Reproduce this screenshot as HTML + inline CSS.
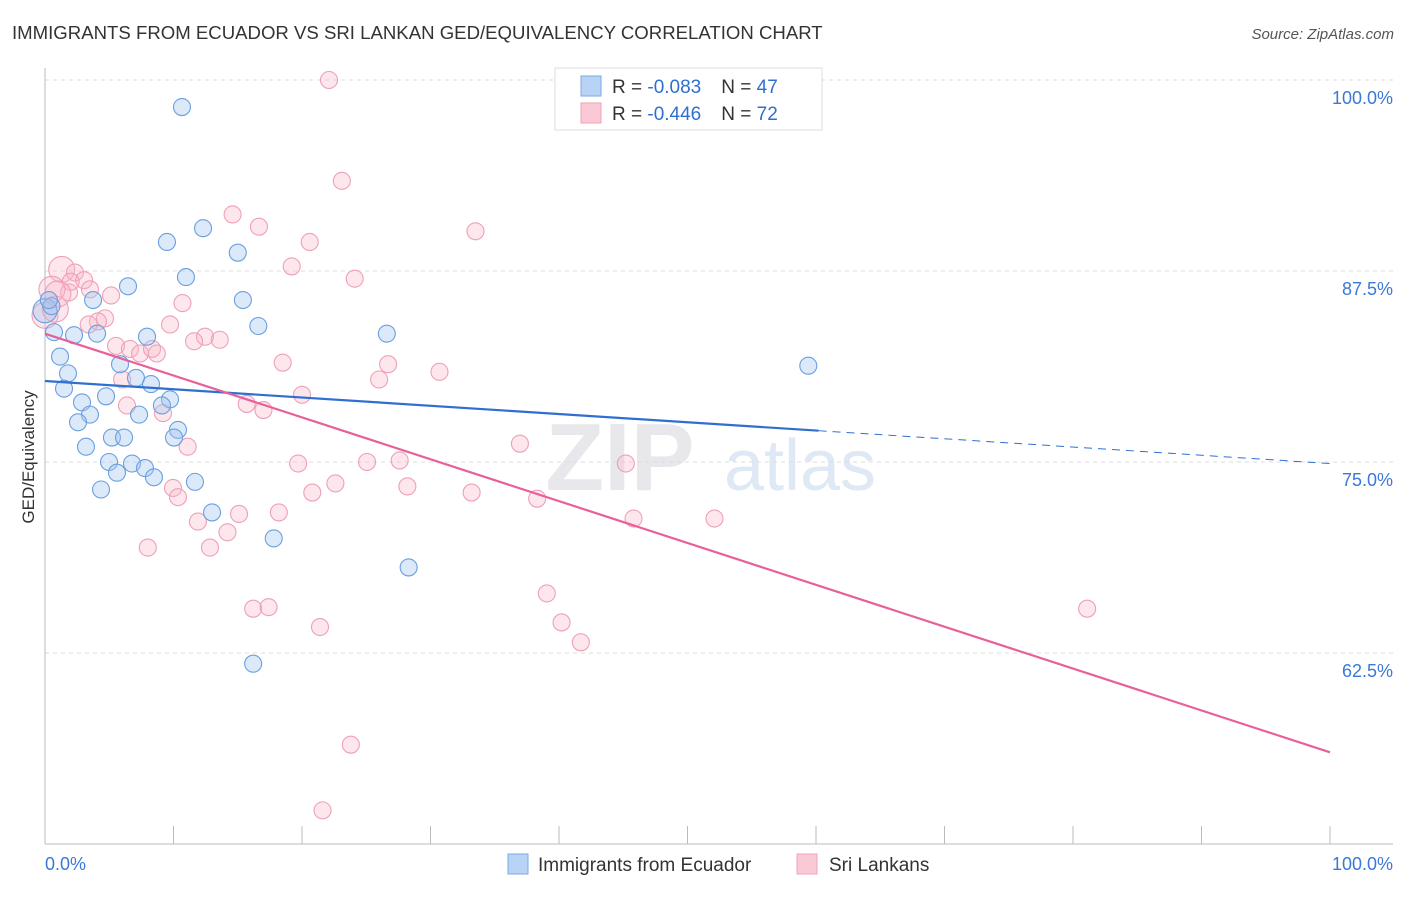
<!DOCTYPE html>
<html><head><meta charset="utf-8"><style>
body{margin:0;background:#fff;font-family:"Liberation Sans",sans-serif;}
svg text{font-family:"Liberation Sans",sans-serif;}
</style></head><body>
<svg id="chart" width="1406" height="892">
<text x="12" y="39" font-size="18.6" fill="#333">IMMIGRANTS FROM ECUADOR VS SRI LANKAN GED/EQUIVALENCY CORRELATION CHART</text>
<text x="1394" y="39" font-size="15" fill="#555" font-style="italic" text-anchor="end">Source: ZipAtlas.com</text>
<text x="620" y="490" font-size="96" fill="#e8e8ec" font-family="Liberation Serif" font-weight="bold" text-anchor="middle">ZIP</text>
<text x="800" y="490" font-size="72" fill="#dfe8f5" text-anchor="middle">atlas</text>
<g id="grid"></g><g id="axes"></g><g id="pts"></g><g id="lines"></g>
<text transform="translate(34,457) rotate(-90)" font-size="17" fill="#333" text-anchor="middle">GED/Equivalency</text>
<g>
<rect x="555" y="68" width="267" height="62" fill="#fff" stroke="#ddd"/>
<rect x="581" y="76" width="20" height="20" fill="#b9d3f6" stroke="#7aa8e6"/>
<rect x="581" y="103" width="20" height="20" fill="#f9c9d6" stroke="#eea3ba"/>
<text x="612" y="93" font-size="19" fill="#333">R = <tspan fill="#2f6fd0">-0.083</tspan><tspan dx="20">N = </tspan><tspan fill="#2f6fd0">47</tspan></text>
<text x="612" y="120" font-size="19" fill="#333">R = <tspan fill="#2f6fd0">-0.446</tspan><tspan dx="20">N = </tspan><tspan fill="#2f6fd0">72</tspan></text>
</g>
<g>
<rect x="508" y="854" width="20" height="20" fill="#b9d3f6" stroke="#7aa8e6"/>
<text x="538" y="871" font-size="19" fill="#333">Immigrants from Ecuador</text>
<rect x="797" y="854" width="20" height="20" fill="#f9c9d6" stroke="#eea3ba"/>
<text x="829" y="871" font-size="19" fill="#333">Sri Lankans</text>
</g>
<text x="45" y="870" font-size="18" fill="#3b78d8">0.0%</text>
<text x="1393" y="870" font-size="18" fill="#3b78d8" text-anchor="end">100.0%</text>
</svg>
<script>
const yTicks=[100,87.5,75,62.5];
const yTickLabels=["100.0%","87.5%","75.0%","62.5%"];
const blueX=[10.66,9.49,12.3,15.0,10.97,6.46,15.4,3.74,16.6,0,0.7,2.26,4.05,7.94,26.6,59.4,1.17,5.84,1.79,7.08,1.48,8.25,4.75,2.88,9.73,9.1,3.5,7.32,2.57,10.35,10.04,5.21,6.15,3.19,4.98,6.77,7.78,5.6,8.48,11.67,4.36,13.0,17.8,28.3,16.2,0.5,0.3];
const blueY=[98.23,89.4,90.3,88.7,87.1,86.5,85.6,85.6,83.9,84.9,83.5,83.3,83.4,83.2,83.4,81.3,81.9,81.4,80.8,80.5,79.8,80.1,79.3,78.9,79.1,78.7,78.1,78.1,77.6,77.1,76.6,76.6,76.6,76.0,75.0,74.9,74.6,74.3,74.0,73.7,73.2,71.7,70.0,68.1,61.8,85.2,85.6];
const pinkX=[22.1,23.1,14.6,16.65,33.5,20.6,19.2,24.1,1.3,2.33,3.04,1.87,3.5,5.14,10.7,0.54,0,4.67,4.12,9.73,12.45,13.6,11.6,5.53,6.61,7.4,8.33,8.7,18.5,26.7,30.7,26.0,6.0,20.0,6.38,15.7,17.0,9.18,36.96,11.1,45.2,19.7,25.06,27.6,22.6,9.96,20.8,28.2,33.2,10.35,38.3,15.1,18.2,11.9,45.8,52.1,14.2,8.0,12.84,39.05,16.2,17.4,81.1,40.2,21.4,41.7,23.8,21.6,0.8,2.0,1.0,3.4];
const pinkY=[100,93.4,91.2,90.4,90.1,89.4,87.8,87.0,87.6,87.4,86.9,86.1,86.3,85.9,85.4,86.3,84.6,84.4,84.2,84.0,83.2,83.0,82.9,82.6,82.4,82.1,82.4,82.1,81.5,81.4,80.9,80.4,80.4,79.4,78.7,78.8,78.4,78.2,76.2,76.0,74.9,74.9,75.0,75.1,73.6,73.3,73.0,73.4,73.0,72.7,72.6,71.6,71.7,71.1,71.3,71.3,70.4,69.4,69.4,66.4,65.4,65.5,65.4,64.5,64.2,63.2,56.5,52.2,85.0,86.8,86.0,84.0];
const blueTrend=[80.3,74.9];
const pinkTrend=[83.4,56.0];
const blueSolidEnd=60.2;
const NS="http://www.w3.org/2000/svg";
const sx=v=>45+v*12.85;
const sy=v=>80+(100-v)*15.28;
function mk(tag,attrs,parent){const e=document.createElementNS(NS,tag);for(const k in attrs)e.setAttribute(k,attrs[k]);document.getElementById(parent).appendChild(e);return e;}
yTicks.forEach((t,i)=>{
 const g=mk('line',{x1:45,x2:1393,y1:sy(t),y2:sy(t),stroke:'#ddd','stroke-dasharray':'4,4'},'grid');
 
 
 const tx=mk('text',{x:1393,y:sy(t)+24,'font-size':18,fill:'#3b78d8','text-anchor':'end'},'grid');
 tx.textContent=yTickLabels[i];
 
 
});
const ax=mk('line',{x1:45,x2:45,y1:68,y2:sy(50),stroke:'#bbb'},'axes');


const bx=mk('line',{x1:45,x2:1393,y1:sy(50),y2:sy(50),stroke:'#bbb'},'axes');


for(let i=0;i<=10;i++){
 const t=mk('line',{x1:sx(i*10),x2:sx(i*10),y1:sy(50)-18,y2:sy(50),stroke:'#bbb'},'axes');
 
 
}
function dot(x,y,fill,stroke,name,r){
 const c=mk('circle',{cx:sx(x),cy:sy(y),r:r,fill:fill,stroke:stroke,'stroke-width':1.1},'pts');
 
 
}
pinkX.forEach((x,i)=>dot(x,pinkY[i],'rgba(248,180,200,0.32)','#eea0b8','sri-lankan-point',(x<1.5&&pinkY[i]>84)?13:8.5));
blueX.forEach((x,i)=>dot(x,blueY[i],'rgba(160,196,240,0.38)','#6a9fe0','ecuador-point',(i==9)?12:8.5));
const bl=(x)=>blueTrend[0]+(blueTrend[1]-blueTrend[0])*x/100;
const l1=mk('line',{x1:sx(0),y1:sy(bl(0)),x2:sx(blueSolidEnd),y2:sy(bl(blueSolidEnd)),stroke:'#2f6fd0','stroke-width':2.2},'lines');


const l2=mk('line',{x1:sx(blueSolidEnd),y1:sy(bl(blueSolidEnd)),x2:sx(100),y2:sy(bl(100)),stroke:'#2f6fd0','stroke-width':1,'stroke-dasharray':'8,6'},'lines');


const l3=mk('line',{x1:sx(0),y1:sy(pinkTrend[0]),x2:sx(100),y2:sy(pinkTrend[1]),stroke:'#e8609a','stroke-width':2.2},'lines');


</script>
</body></html>
